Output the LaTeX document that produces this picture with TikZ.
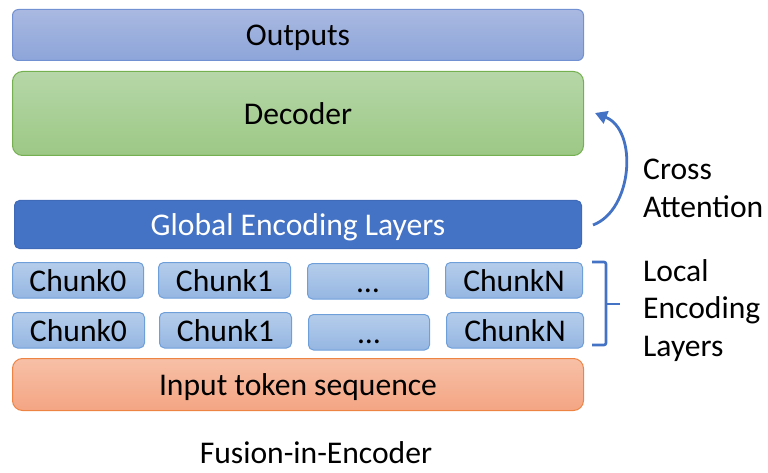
\documentclass[tikz,border=0pt]{standalone}
\usepackage{fontspec}
\setmainfont{Carlito}
\usetikzlibrary{arrows.meta}
\definecolor{outT}{HTML}{A9B9E1}
\definecolor{outB}{HTML}{8DA5D9}
\definecolor{outD}{HTML}{7191D2}
\definecolor{decT}{HTML}{B6D7A8}
\definecolor{decB}{HTML}{9CC885}
\definecolor{decD}{HTML}{74B050}
\definecolor{glob}{HTML}{4472C4}
\definecolor{globD}{HTML}{3F6AB8}
\definecolor{chT}{HTML}{B5CDEB}
\definecolor{chB}{HTML}{95B6E2}
\definecolor{chD}{HTML}{6E9FD9}
\definecolor{inT}{HTML}{F7C0A7}
\definecolor{inB}{HTML}{F4A583}
\definecolor{inD}{HTML}{EE8444}
\definecolor{accent}{HTML}{4472C4}
\tikzset{
  box/.style={draw, line width=1pt, inner sep=0pt, text height=28.5pt, text depth=7pt, anchor=north west},
  outbox/.style={box, draw=outD, top color=outT, bottom color=outB, rounded corners=6pt},
  decbox/.style={box, draw=decD, top color=decT, bottom color=decB, rounded corners=10pt},
  globbox/.style={box, draw=globD, fill=glob, text=white, rounded corners=5pt},
  chunkbox/.style={box, draw=chD, top color=chT, bottom color=chB, rounded corners=5pt},
  inbox/.style={box, draw=inD, top color=inT, bottom color=inB, rounded corners=10pt},
  lbl/.style={anchor=base west, inner sep=0pt},
  accentline/.style={draw=accent, line width=3pt},
}
\begin{document}
\begin{tikzpicture}[x=1pt, y=-1pt, font=\fontsize{31.6}{38}\selectfont]
\useasboundingbox (0,0) rectangle (768,473);
\node[outbox, minimum width=571pt, minimum height=51pt] (out) at (12,9) {Outputs};
\node[decbox, minimum width=571pt, minimum height=84pt] (dec) at (12,71) {Decoder};
\node[globbox, minimum width=567pt, minimum height=48pt] (glob) at (14,200) {Global Encoding Layers};
% chunk row 1
\node[chunkbox, minimum width=131pt, minimum height=31pt] (c10) at (12,262) {Chunk0};
\node[chunkbox, minimum width=132pt, minimum height=31pt] (c11) at (158,262) {Chunk1};
\node[chunkbox, minimum width=121pt, minimum height=32pt] (c1d) at (307,263) {…};
\node[chunkbox, minimum width=137pt, minimum height=31pt] (c1n) at (445,262) {ChunkN};
% chunk row 2
\node[chunkbox, minimum width=132pt, minimum height=32pt] (c20) at (12,312) {Chunk0};
\node[chunkbox, minimum width=132pt, minimum height=32pt] (c21) at (159,312) {Chunk1};
\node[chunkbox, minimum width=121pt, minimum height=32pt] (c2d) at (308,314) {…};
\node[chunkbox, minimum width=137pt, minimum height=32pt] (c2n) at (446,312) {ChunkN};
\node[inbox, minimum width=571pt, minimum height=52pt] (inp) at (12,358) {Input token sequence};
% cross attention arrow
\coordinate (caS) at (593,225);
\coordinate (caE) at (595,113);
\draw[accentline, line width=2.8pt, -{Triangle[length=12pt,width=13pt]}] (caS) .. controls (633,210) and (638,130) .. (caE);
\node[lbl] (cross) at (643,180) {Cross};
\node[lbl] (att) at (643,218) {Attention};
% bracket
\coordinate (bT) at (592,262);
\coordinate (bB) at (592,345);
\coordinate (bM) at (606,304);
\coordinate (bTip) at (620,304);
\draw[accentline, line width=2.6pt, rounded corners=2pt] (bT) -| (bM) |- (bB);
\draw[accentline, line width=2.6pt] (bM) -- (bTip);
\node[lbl] (loc) at (643,281) {Local};
\node[lbl] (enc) at (643,318) {Encoding};
\node[lbl] (lay) at (643,356) {Layers};
\node[anchor=base, inner sep=0pt] (cap) at (316,463) {Fusion-in-Encoder};
\end{tikzpicture}
\end{document}
